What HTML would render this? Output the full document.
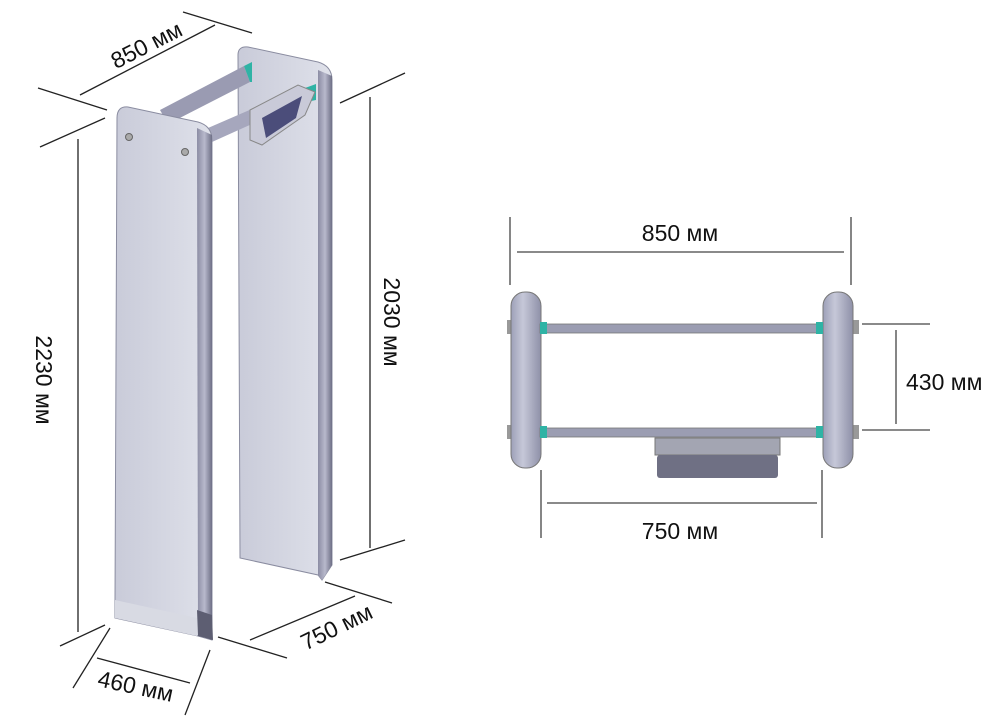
<!DOCTYPE html>
<html><head><meta charset="utf-8"><style>
html,body{margin:0;padding:0;background:#fff;}
svg{display:block;}
text{font-family:"Liberation Sans",sans-serif;fill:#111;font-size:23px;}
</style></head><body>
<svg width="1000" height="725" viewBox="0 0 1000 725" xmlns="http://www.w3.org/2000/svg">
<defs>
<linearGradient id="face" x1="0" x2="1" y1="0" y2="0"><stop offset="0" stop-color="#c9cbd9"/><stop offset="1" stop-color="#dfe1ea"/></linearGradient>
<linearGradient id="side" x1="0" x2="1"><stop offset="0" stop-color="#8b8ca3"/><stop offset="0.5" stop-color="#b8b9cc"/><stop offset="1" stop-color="#6e6f86"/></linearGradient>
<linearGradient id="post" x1="0" x2="1"><stop offset="0" stop-color="#9da0b8"/><stop offset="0.4" stop-color="#c6c8d8"/><stop offset="1" stop-color="#8e90a8"/></linearGradient>
</defs>
<g stroke="#222" stroke-width="1.3" fill="none">
<line x1="80" y1="95" x2="215" y2="25"/>
<line x1="38" y1="88" x2="107" y2="110"/>
<line x1="183" y1="12" x2="252" y2="33"/>
<line x1="40" y1="147" x2="105" y2="118"/>
<line x1="78" y1="139" x2="78" y2="632"/>
<line x1="60" y1="646" x2="105" y2="625"/>
<line x1="340" y1="103" x2="405" y2="73"/>
<line x1="370" y1="97" x2="370" y2="548"/>
<line x1="340" y1="560" x2="405" y2="540"/>
<line x1="250" y1="640" x2="355" y2="596"/>
<line x1="218" y1="637" x2="287" y2="658"/>
<line x1="325" y1="582" x2="392" y2="603"/>
<line x1="97" y1="658" x2="190" y2="683"/>
<line x1="110" y1="628" x2="73" y2="688"/>
<line x1="210" y1="650" x2="185" y2="715"/>
</g>
<g stroke="#444" stroke-width="1.3">
<line x1="510" y1="217" x2="510" y2="285"/>
<line x1="851" y1="217" x2="851" y2="285"/>
<line x1="517" y1="252" x2="844" y2="252"/>
<line x1="862" y1="324" x2="930" y2="324"/>
<line x1="862" y1="430" x2="930" y2="430"/>
<line x1="896" y1="330" x2="896" y2="424"/>
<line x1="541" y1="470" x2="541" y2="538"/>
<line x1="822" y1="470" x2="822" y2="538"/>
<line x1="547" y1="503" x2="817" y2="503"/>
</g>
<path d="M238 55 Q238 46 248 47 L318 62 Q332 66 332 80 L332 565 L322 580 L318 575 L240 558 Z" fill="url(#face)" stroke="#8a8ca0"/>
<path d="M318 70 L332 76 L332 565 L322 580 L318 575 Z" fill="url(#side)"/>
<polygon points="160,110 244,66 250,82 168,124" fill="#9a9bb2"/>
<polygon points="244,66 252,62 252,82 250,82" fill="#2fb3a5"/>
<polygon points="208,128 300,88 305,100 212,142" fill="#a6a7bd"/>
<polygon points="305,88 316,84 316,100 306,102" fill="#2fb3a5"/>
<polygon points="250,110 298,85 315,92 305,115 262,145 250,140" fill="#c9cad8" stroke="#888"/>
<polygon points="262,118 302,96 296,118 266,138" fill="#4b4d7a"/>
<path d="M117 118 Q117 106 128 107 L198 122 Q212 126 212 140 L212 640 L198 636 L115 618 L115 600 Z" fill="url(#face)" stroke="#8a8ca0"/>
<path d="M197 128 L212 135 L212 640 L198 636 Z" fill="url(#side)"/>
<polygon points="197,610 212,615 213,640 198,636" fill="#5d5e72"/>
<polygon points="115,600 197,618 197,636 115,618" fill="#d8dae3"/>
<circle cx="129" cy="137" r="3.5" fill="#aaa" stroke="#666"/>
<circle cx="185" cy="152" r="3.5" fill="#aaa" stroke="#666"/>
<rect x="507" y="320" width="6" height="14" fill="#999"/>
<rect x="507" y="425" width="6" height="14" fill="#999"/>
<rect x="853" y="320" width="6" height="14" fill="#999"/>
<rect x="853" y="425" width="6" height="14" fill="#999"/>
<rect x="511" y="292" width="30" height="176" rx="14" fill="url(#post)" stroke="#777"/>
<rect x="823" y="292" width="30" height="176" rx="14" fill="url(#post)" stroke="#777"/>
<rect x="540" y="324" width="283" height="9" fill="#9b9db2" stroke="#777" stroke-width="0.8"/>
<rect x="540" y="428" width="283" height="9" fill="#9b9db2" stroke="#777" stroke-width="0.8"/>
<rect x="540" y="322" width="7" height="12" fill="#2fb3a5"/>
<rect x="816" y="322" width="7" height="12" fill="#2fb3a5"/>
<rect x="540" y="426" width="7" height="12" fill="#2fb3a5"/>
<rect x="816" y="426" width="7" height="12" fill="#2fb3a5"/>
<rect x="655" y="438" width="125" height="17" fill="#a3a5b2" stroke="#777"/>
<rect x="657" y="455" width="121" height="23" rx="3" fill="#6f7084"/>
<text x="680" y="241" text-anchor="middle">850 мм</text>
<text x="680" y="539" text-anchor="middle">750 мм</text>
<text x="906" y="390">430 мм</text>
<text transform="translate(150,52) rotate(-27)" text-anchor="middle">850 мм</text>
<text transform="translate(36,380) rotate(90)" text-anchor="middle">2230 мм</text>
<text transform="translate(384,322) rotate(90)" text-anchor="middle">2030 мм</text>
<text transform="translate(340,634) rotate(-26)" text-anchor="middle">750 мм</text>
<text transform="translate(134,694) rotate(12)" text-anchor="middle">460 мм</text>
</svg>
</body></html>
